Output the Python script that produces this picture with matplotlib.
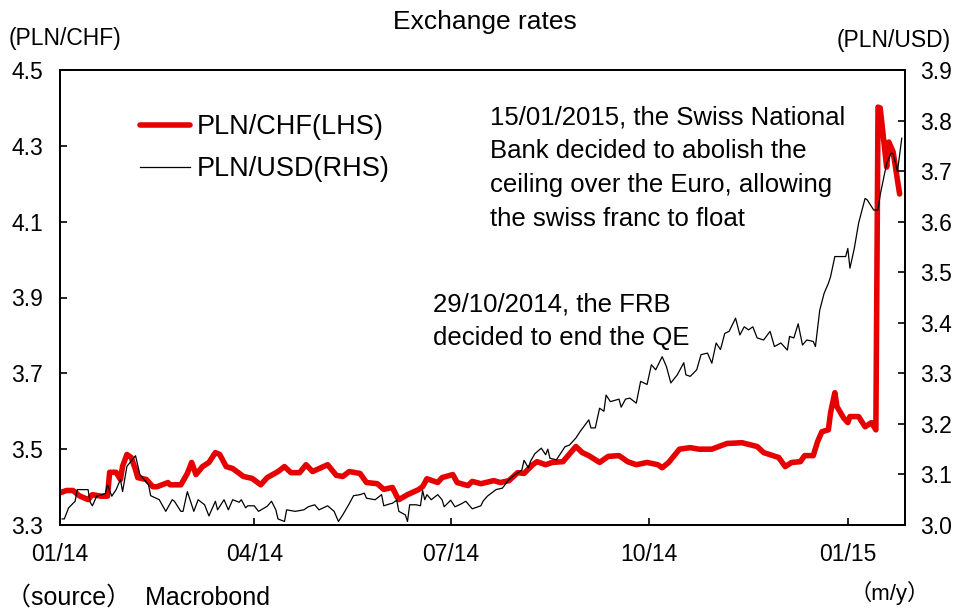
import matplotlib
matplotlib.use("Agg")
import matplotlib.pyplot as plt
import matplotlib.dates as mdates
import pandas as pd

plt.rcParams['font.family'] = ['Liberation Sans', 'Noto Sans CJK JP', 'DejaVu Sans']

# ---------------- data ----------------
chf_dates = [
    "2014-01-01", "2014-01-04", "2014-01-07", "2014-01-10", "2014-01-14", "2014-01-16", "2014-01-20",
    "2014-01-23", "2014-01-24", "2014-01-27", "2014-01-29", "2014-01-30", "2014-02-01", "2014-02-03",
    "2014-02-05", "2014-02-06", "2014-02-10", "2014-02-13", "2014-02-15", "2014-02-20", "2014-02-21",
    "2014-02-26", "2014-03-01", "2014-03-03", "2014-03-05", "2014-03-08", "2014-03-11", "2014-03-14",
    "2014-03-16", "2014-03-19", "2014-03-22", "2014-03-27", "2014-03-31", "2014-04-04", "2014-04-07",
    "2014-04-12", "2014-04-15", "2014-04-18", "2014-04-22", "2014-04-25", "2014-04-28", "2014-05-05",
    "2014-05-09", "2014-05-12", "2014-05-15", "2014-05-20", "2014-05-23", "2014-05-28", "2014-05-31",
    "2014-06-04", "2014-06-06", "2014-06-07", "2014-06-11", "2014-06-16", "2014-06-18", "2014-06-20",
    "2014-06-25", "2014-06-27", "2014-07-02", "2014-07-04", "2014-07-09", "2014-07-11", "2014-07-15",
    "2014-07-21", "2014-07-24", "2014-07-28", "2014-08-01", "2014-08-04", "2014-08-08", "2014-08-10",
    "2014-08-14", "2014-08-17", "2014-08-22", "2014-08-28", "2014-08-31", "2014-09-03", "2014-09-08",
    "2014-09-12", "2014-09-17", "2014-09-21", "2014-09-25", "2014-09-30", "2014-10-05", "2014-10-07",
    "2014-10-10", "2014-10-15", "2014-10-20", "2014-10-24", "2014-10-30", "2014-11-06", "2014-11-13",
    "2014-11-20", "2014-11-23", "2014-11-30", "2014-12-03", "2014-12-06", "2014-12-10", "2014-12-12",
    "2014-12-16", "2014-12-18", "2014-12-20", "2014-12-23", "2014-12-24", "2014-12-26", "2014-12-27",
    "2014-12-30", "2015-01-01", "2015-01-02", "2015-01-06", "2015-01-09", "2015-01-12", "2015-01-14",
    "2015-01-15", "2015-01-16", "2015-01-19", "2015-01-20", "2015-01-22", "2015-01-23", "2015-01-25",
]
pln_chf = [
    3.385, 3.391, 3.391, 3.377, 3.367, 3.380, 3.376,
    3.376, 3.439, 3.439, 3.420, 3.455, 3.486, 3.478,
    3.446, 3.425, 3.420, 3.401, 3.401, 3.412, 3.406,
    3.406, 3.436, 3.465, 3.433, 3.454, 3.465, 3.491,
    3.486, 3.454, 3.449, 3.428, 3.423, 3.406, 3.425,
    3.441, 3.454, 3.438, 3.438, 3.459, 3.441, 3.459,
    3.431, 3.428, 3.441, 3.436, 3.412, 3.409, 3.394,
    3.399, 3.376, 3.367, 3.380, 3.393, 3.401, 3.422,
    3.412, 3.425, 3.433, 3.412, 3.404, 3.415, 3.409,
    3.417, 3.412, 3.417, 3.438, 3.436, 3.459, 3.467,
    3.459, 3.465, 3.467, 3.507, 3.491, 3.483, 3.465,
    3.481, 3.483, 3.467, 3.459, 3.465, 3.459, 3.451,
    3.465, 3.500, 3.504, 3.500, 3.500, 3.515, 3.517,
    3.507, 3.491, 3.478, 3.454, 3.465, 3.467, 3.483,
    3.483, 3.520, 3.546, 3.551, 3.596, 3.649, 3.612,
    3.583, 3.570, 3.586, 3.586, 3.559, 3.570, 3.551,
    4.402, 4.400, 4.244, 4.310, 4.284, 4.247, 4.173,
]

usd_dates = [
    "2014-01-02", "2014-01-03", "2014-01-05", "2014-01-08", "2014-01-09", "2014-01-14", "2014-01-15",
    "2014-01-16", "2014-01-18", "2014-01-22", "2014-01-23", "2014-01-25", "2014-01-27", "2014-01-29",
    "2014-01-30", "2014-02-01", "2014-02-05", "2014-02-07", "2014-02-09", "2014-02-11", "2014-02-12",
    "2014-02-16", "2014-02-19", "2014-02-22", "2014-02-23", "2014-02-26", "2014-02-27", "2014-03-01",
    "2014-03-04", "2014-03-06", "2014-03-09", "2014-03-11", "2014-03-14", "2014-03-15", "2014-03-18",
    "2014-03-20", "2014-03-22", "2014-03-25", "2014-03-26", "2014-03-28", "2014-03-29", "2014-04-01",
    "2014-04-03", "2014-04-07", "2014-04-09", "2014-04-11", "2014-04-12", "2014-04-15", "2014-04-16",
    "2014-04-20", "2014-04-24", "2014-04-26", "2014-04-29", "2014-05-01", "2014-05-05", "2014-05-08",
    "2014-05-10", "2014-05-12", "2014-05-15", "2014-05-17", "2014-05-20", "2014-05-22", "2014-05-23",
    "2014-05-27", "2014-05-30", "2014-05-31", "2014-06-03", "2014-06-04", "2014-06-06", "2014-06-07",
    "2014-06-10", "2014-06-11", "2014-06-12", "2014-06-15", "2014-06-17", "2014-06-18", "2014-06-19",
    "2014-06-20", "2014-06-22", "2014-06-25", "2014-06-27", "2014-06-28", "2014-07-01", "2014-07-03",
    "2014-07-06", "2014-07-08", "2014-07-11", "2014-07-15", "2014-07-16", "2014-07-18", "2014-07-22",
    "2014-07-25", "2014-07-28", "2014-07-31", "2014-08-03", "2014-08-04", "2014-08-06", "2014-08-07",
    "2014-08-09", "2014-08-12", "2014-08-14", "2014-08-15", "2014-08-16", "2014-08-19", "2014-08-23",
    "2014-08-25", "2014-08-28", "2014-08-30", "2014-09-03", "2014-09-04", "2014-09-06", "2014-09-08",
    "2014-09-10", "2014-09-11", "2014-09-13", "2014-09-17", "2014-09-18", "2014-09-20", "2014-09-22",
    "2014-09-25", "2014-09-27", "2014-09-30", "2014-10-02", "2014-10-04", "2014-10-07", "2014-10-09",
    "2014-10-11", "2014-10-14", "2014-10-17", "2014-10-18", "2014-10-20", "2014-10-23", "2014-10-25",
    "2014-10-28", "2014-10-30", "2014-11-01", "2014-11-03", "2014-11-05", "2014-11-07", "2014-11-10",
    "2014-11-12", "2014-11-14", "2014-11-16", "2014-11-18", "2014-11-20", "2014-11-23", "2014-11-26",
    "2014-11-28", "2014-12-01", "2014-12-04", "2014-12-05", "2014-12-07", "2014-12-09", "2014-12-11",
    "2014-12-13", "2014-12-16", "2014-12-17", "2014-12-19", "2014-12-21", "2014-12-23", "2014-12-24",
    "2014-12-26", "2014-12-31", "2015-01-01", "2015-01-02", "2015-01-04", "2015-01-06", "2015-01-09",
    "2015-01-10", "2015-01-13", "2015-01-15", "2015-01-16", "2015-01-19", "2015-01-21", "2015-01-22",
    "2015-01-24", "2015-01-25", "2015-01-26",
]
pln_usd = [
    3.012, 3.012, 3.034, 3.047, 3.070, 3.070, 3.045,
    3.038, 3.057, 3.062, 3.080, 3.057, 3.070, 3.090,
    3.066, 3.116, 3.137, 3.100, 3.090, 3.080, 3.058,
    3.050, 3.027, 3.050, 3.047, 3.027, 3.027, 3.066,
    3.027, 3.050, 3.040, 3.018, 3.047, 3.030, 3.050,
    3.030, 3.050, 3.045, 3.050, 3.034, 3.038, 3.038,
    3.027, 3.037, 3.047, 3.030, 3.012, 3.007, 3.030,
    3.027, 3.030, 3.036, 3.040, 3.030, 3.038, 3.027,
    3.007, 3.020, 3.042, 3.058, 3.060, 3.063, 3.053,
    3.050, 3.060, 3.038, 3.042, 3.043, 3.049, 3.027,
    3.020, 3.007, 3.040, 3.040, 3.038, 3.068, 3.050,
    3.060, 3.050, 3.060, 3.050, 3.036, 3.049, 3.036,
    3.042, 3.047, 3.032, 3.038, 3.047, 3.057, 3.070,
    3.073, 3.090, 3.100, 3.109, 3.128, 3.113, 3.126,
    3.141, 3.152, 3.139, 3.150, 3.132, 3.129, 3.155,
    3.158, 3.172, 3.185, 3.208, 3.192, 3.192, 3.231,
    3.225, 3.257, 3.244, 3.249, 3.233, 3.249, 3.251,
    3.241, 3.284, 3.278, 3.317, 3.307, 3.333, 3.313,
    3.281, 3.297, 3.321, 3.297, 3.294, 3.307, 3.337,
    3.340, 3.320, 3.360, 3.347, 3.379, 3.383, 3.409,
    3.376, 3.392, 3.386, 3.392, 3.370, 3.366, 3.383,
    3.353, 3.360, 3.346, 3.373, 3.370, 3.398, 3.356,
    3.366, 3.363, 3.353, 3.425, 3.458, 3.478, 3.491,
    3.531, 3.531, 3.547, 3.508, 3.547, 3.597, 3.646,
    3.643, 3.623, 3.623, 3.653, 3.715, 3.735, 3.735,
    3.699, 3.732, 3.765,
]

xtick_dates = ["2014-01-01", "2014-04-01", "2014-07-01", "2014-10-01", "2015-01-01"]
xtick_labels = ["01/14", "04/14", "07/14", "10/14", "01/15"]
left_ticks = [3.3, 3.5, 3.7, 3.9, 4.1, 4.3, 4.5]
right_ticks = [3.0, 3.1, 3.2, 3.3, 3.4, 3.5, 3.6, 3.7, 3.8, 3.9]

# ---------------- figure ----------------
W, H = 956, 615
fig = plt.figure(figsize=(W / 100, H / 100), dpi=100)
ax = fig.add_axes([60 / W, 1 - 525 / H, 845 / W, 455 / H])
ax2 = ax.twinx()

red = "#e60000"
l1, = ax.plot(pd.to_datetime(chf_dates), pln_chf, color=red, lw=4.0,
              solid_joinstyle="round", solid_capstyle="round", label="PLN/CHF(LHS)")
l2, = ax2.plot(pd.to_datetime(usd_dates), pln_usd, color="black", lw=0.9,
               label="PLN/USD(RHS)")

ax.set_xlim(pd.Timestamp("2014-01-01"), pd.Timestamp("2015-01-27 12:00"))
ax.set_ylim(3.3, 4.5)
ax2.set_ylim(3.0, 3.9)
ax.set_yticks(left_ticks)
ax.set_yticklabels([f"{v:.1f}" for v in left_ticks])
ax2.set_yticks(right_ticks)
ax2.set_yticklabels([f"{v:.1f}" for v in right_ticks])
ax.set_xticks(pd.to_datetime(xtick_dates))
ax.set_xticklabels(xtick_labels)

for a in (ax, ax2):
    for s in a.spines.values():
        s.set_linewidth(1.3)
        s.set_color("black")
ax.tick_params(axis="both", direction="in", length=5, width=1.2, labelsize=16.5, colors="black")
ax.tick_params(axis="x", pad=13)
ax.tick_params(axis="y", pad=12)
ax2.tick_params(axis="y", direction="in", length=5, width=1.2, labelsize=16.5, pad=11)

fig.text(485 / W, 1 - 22 / H, "Exchange rates", ha="center", va="center", fontsize=19)
fig.text(9 / W, 1 - 38 / H, "(PLN/CHF)", ha="left", va="center", fontsize=16.5)
fig.text(951 / W, 1 - 40 / H, "(PLN/USD)", ha="right", va="center", fontsize=16.5)

fig.legend(handles=[l1, l2], loc="upper left", bbox_to_anchor=(140 / W, 1 - 114 / H),
           frameon=False, fontsize=19.5, handlelength=1.85, handletextpad=0.25,
           labelspacing=0.6, borderaxespad=0, borderpad=0)

fig.text(490 / W, 1 - 105 / H,
         "15/01/2015, the Swiss National\nBank decided to abolish the\n"
         "ceiling over the Euro, allowing\nthe swiss franc to float",
         ha="left", va="top", fontsize=18.5, linespacing=1.52)
fig.text(433 / W, 1 - 292 / H, "29/10/2014, the FRB\ndecided to end the QE",
         ha="left", va="top", fontsize=18.5, linespacing=1.52)

fig.text(6 / W, 1 - 598 / H, "（source）  Macrobond", ha="left", va="center", fontsize=18)
fig.text(930 / W, 1 - 593 / H, "（m/y）", ha="right", va="center", fontsize=16)

fig.savefig("out.png", dpi=100)
